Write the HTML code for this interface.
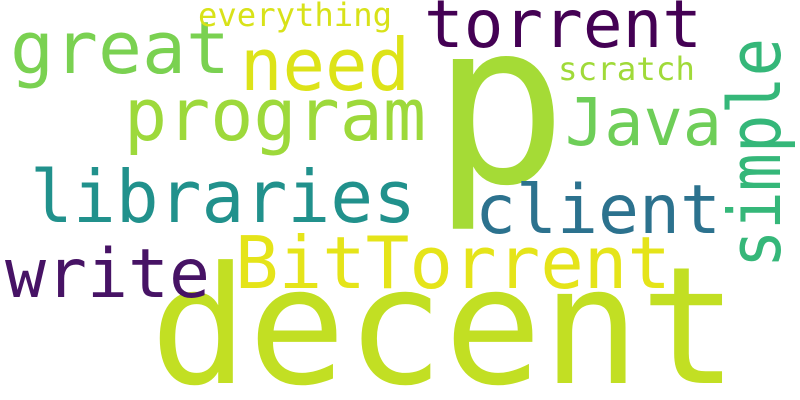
<!DOCTYPE html>
<html><head><meta charset="utf-8"><style>
html,body{margin:0;padding:0;background:#fff;width:800px;height:400px;overflow:hidden}
svg{display:block;overflow:hidden}
svg text{font-family:"DejaVu Sans Mono","Liberation Mono",monospace}
</style></head><body>
<svg width="800" height="400" viewBox="0 0 800 400">
<rect width="800" height="400" fill="#fff"/>
<text x="150" y="383" font-size="163" fill="#c2df23" textLength="588" lengthAdjust="spacingAndGlyphs">decent</text>
<text x="432" y="182" font-size="225" fill="#a5db36">p</text>
<text x="424" y="47" font-size="66" fill="#440154" textLength="278" lengthAdjust="spacingAndGlyphs">torrent</text>
<text x="10" y="73" font-size="72" fill="#7ad151" textLength="220" lengthAdjust="spacingAndGlyphs">great</text>
<text x="240" y="90" font-size="72" fill="#dde318" textLength="170" lengthAdjust="spacingAndGlyphs">need</text>
<text x="198" y="26" font-size="32" fill="#d8e219" textLength="194" lengthAdjust="spacingAndGlyphs">everything</text>
<text x="558" y="80" font-size="32" fill="#a0da39" textLength="137" lengthAdjust="spacingAndGlyphs">scratch</text>
<text x="565" y="145" font-size="66" fill="#6ece58" textLength="157" lengthAdjust="spacingAndGlyphs">Java</text>
<text transform="translate(780,268) rotate(-90)" x="0" y="0" font-size="72" fill="#35b779" textLength="230" lengthAdjust="spacingAndGlyphs">simple</text>
<text x="124" y="140" font-size="72" fill="#9dd93b" textLength="302" lengthAdjust="spacingAndGlyphs">program</text>
<text x="30" y="222" font-size="72" fill="#21918c" textLength="386" lengthAdjust="spacingAndGlyphs">libraries</text>
<text x="475" y="233" font-size="68" fill="#2c728e" textLength="246" lengthAdjust="spacingAndGlyphs">client</text>
<text x="5" y="297" font-size="68" fill="#471365" textLength="205" lengthAdjust="spacingAndGlyphs">write</text>
<text x="235" y="288" font-size="72" fill="#e5e419" textLength="436" lengthAdjust="spacingAndGlyphs">BitTorrent</text>
</svg>
</body></html>
